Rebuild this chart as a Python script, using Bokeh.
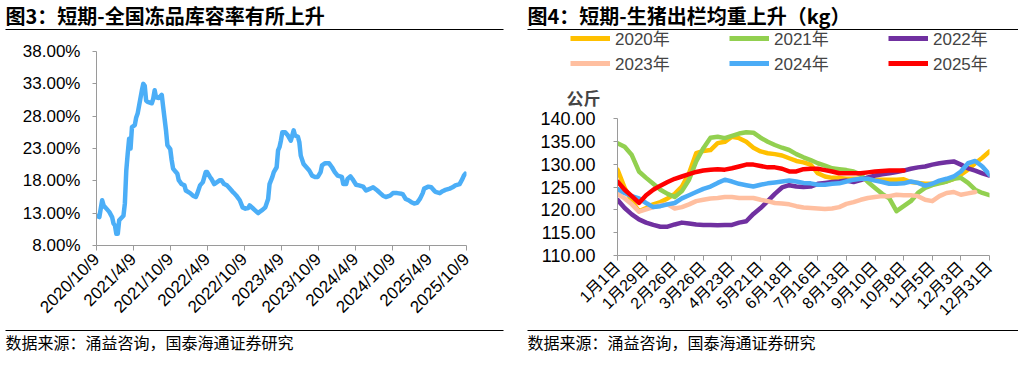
import pandas as pd
from bokeh.plotting import figure
from bokeh.layouts import row, column
from bokeh.models import (Range1d, FixedTicker, PrintfTickFormatter, Label,
                          BoxAnnotation, Legend, LegendItem)
from bokeh.embed import file_html
from bokeh.resources import INLINE

# ---------------- Figure 3 data ----------------
title3 = "图3：短期-全国冻品库容率有所上升"
source_text = "数据来源：涌益咨询，国泰海通证券研究"
start3 = "2020-10-09"
tick_labels3 = ["2020/10/9", "2021/4/9", "2021/10/9", "2022/4/9", "2022/10/9",
                "2023/4/9", "2023/10/9", "2024/4/9", "2024/10/9", "2025/4/9",
                "2025/10/9"]
weeks3 = [
    0, 2, 4, 5, 7, 9, 11, 12, 13, 14,
    15, 16, 19, 20, 21, 22, 23, 24, 25, 27,
    28, 29, 30, 32, 33, 34, 35, 36, 39, 40,
    41, 42, 44, 46, 47, 49, 50, 52, 53, 54,
    56, 57, 58, 60, 62, 63, 66, 68, 70, 71,
    73, 75, 77, 78, 80, 81, 83, 85, 87, 88,
    90, 92, 94, 96, 97, 99, 101, 103, 105, 107,
    108, 110, 112, 114, 115, 117, 119, 121, 122, 124,
    125, 127, 128, 129, 130, 131, 133, 135, 137, 139,
    140, 142, 143, 144, 146, 148, 150, 152, 154, 156,
    158, 159, 161, 164, 166, 168, 170, 173, 174, 176,
    177, 179, 181, 183, 185, 188, 190, 191, 194, 195,
    198, 200, 202, 204, 207, 209, 212, 215, 216, 218,
    220, 222, 224, 226, 228, 230, 231, 234, 236, 238,
    239, 242, 244, 246, 249, 251, 253, 256, 258, 259,
    260]
ratio3 = [
    12.6, 12.4, 15.0, 14.2, 13.7, 13.2, 12.4, 11.4, 11.1, 9.8,
    9.8, 11.9, 12.6, 14.5, 19.6, 22.2, 24.5, 23.0, 26.3, 26.6,
    27.8, 28.4, 29.6, 32.0, 33.0, 32.7, 30.4, 30.2, 30.0, 30.7,
    32.0, 30.9, 30.8, 31.3, 29.4, 25.8, 23.5, 22.9, 21.2, 19.9,
    19.35, 19.1, 18.1, 17.5, 17.3, 16.5, 16.1, 15.7, 15.5, 16.0,
    17.3, 17.8, 19.35, 19.35, 18.6, 18.3, 17.5, 17.8, 18.1, 18.1,
    17.5, 17.3, 16.8, 16.3, 16.1, 15.6, 15.0, 13.9, 13.7, 13.8,
    14.2, 13.8, 13.4, 13.0, 13.2, 13.5, 13.9, 15.2, 17.5, 18.6,
    19.35, 20.1, 22.7, 23.2, 24.2, 25.5, 25.5, 25.0, 24.2, 25.8,
    25.0, 24.8, 24.0, 21.9, 20.6, 20.1, 19.6, 18.8, 18.6, 18.6,
    19.35, 20.4, 20.7, 20.7, 20.1, 19.35, 18.8, 18.6, 17.5, 17.5,
    18.3, 18.7, 18.1, 17.4, 17.3, 17.1, 16.5, 16.6, 16.9, 17.0,
    16.5, 16.1, 15.7, 15.5, 15.7, 16.1, 16.1, 16.0, 15.9, 15.2,
    15.0, 14.7, 14.5, 14.6, 15.2, 16.1, 16.8, 17.1, 17.0, 16.5,
    16.3, 16.1, 16.4, 16.6, 16.8, 17.0, 17.3, 17.5, 18.3, 18.8,
    19.1]
yticks3 = [8, 13, 18, 23, 28, 33, 38]

# ---------------- Figure 4 data ----------------
title4 = "图4：短期-生猪出栏均重上升（kg）"
unit4 = "公斤"
tick_labels4 = ["1月1日", "1月29日", "2月26日", "3月26日", "4月23日", "5月21日",
                "6月18日", "7月16日", "8月13日", "9月10日", "10月8日", "11月5日",
                "12月3日", "12月31日"]
years4 = ["2020年", "2021年", "2022年", "2023年", "2024年", "2025年"]
w2020 = [128.8, 124.8, 121.9, 119.7, 120.4, 121.2, 121.7, 122.5, 123.5, 125.1,
         128.0, 132.4, 132.9, 133.1, 134.6, 134.9, 136.0, 135.7, 134.9, 133.6,
         132.8, 132.4, 132.2, 131.9, 131.3, 130.7, 130.4, 129.9, 128.0, 127.3,
         127.0, 127.0, 126.8, 126.8, 126.8, 126.7, 126.6, 126.6, 126.6, 126.6,
         126.7, 126.1, 125.9, 125.7, 125.7, 125.9, 126.2, 126.8, 127.7, 128.8,
         130.2, 131.4, 132.8]
w2021 = [134.6, 133.8, 132.0, 128.4, 127.0, 125.7, 124.4, 123.5, 122.8, 124.1,
         126.6, 130.6, 133.5, 135.8, 136.0, 135.7, 136.2, 136.7, 137.0, 136.9,
         135.8, 134.9, 134.2, 133.6, 133.1, 132.2, 131.5, 130.9, 130.2, 129.7,
         129.1, 128.9, 128.7, 128.4, 127.7, 126.1, 124.8, 123.5, 122.5, 119.7,
         120.8, 121.9, 123.7, 124.8, 125.4, 125.8, 126.2, 126.8, 127.0, 125.9,
         124.4, 123.7, 123.2]
w2022 = [122.2, 120.4, 119.0, 117.9, 117.2, 116.7, 116.3, 116.3, 116.8, 117.2,
         117.0, 116.8, 116.7, 116.7, 116.6, 116.7, 116.7, 117.2, 117.5, 119.1,
         120.4, 121.9, 123.5, 124.9, 125.4, 125.1, 125.0, 125.1, 125.7, 125.9,
         126.1, 126.2, 126.4, 126.1, 126.5, 127.1, 127.5, 127.8, 128.0, 128.3,
         128.6, 129.0, 129.3, 129.5, 129.9, 130.2, 130.4, 130.6, 129.9, 129.1,
         128.6, 128.0, 127.5]
w2023 = [123.5, 122.5, 121.2, 119.6, 120.1, 120.6, 121.0, 121.2, 120.3, 120.6,
         121.2, 121.9, 122.2, 122.5, 122.6, 122.8, 122.8, 122.6, 122.6, 122.6,
         122.2, 121.9, 121.5, 121.4, 121.2, 120.8, 120.5, 120.4, 120.3, 120.2,
         120.3, 120.6, 121.3, 121.7, 122.2, 122.6, 122.8, 123.0, 123.0, 123.3,
         123.2, 123.2, 123.0, 122.2, 121.9, 123.0, 123.7, 123.9, 123.3, 123.6,
         123.9]
w2024 = [124.6, 123.7, 123.0, 122.5, 121.5, 120.6, 120.8, 121.2, 121.5, 122.5,
         123.2, 123.9, 124.6, 125.1, 125.9, 126.6, 126.2, 125.7, 125.4, 125.1,
         125.5, 125.8, 126.0, 126.2, 126.4, 126.2, 125.9, 125.8, 125.5, 125.5,
         125.7, 125.8, 126.2, 126.6, 126.8, 126.8, 126.4, 126.1, 125.7, 125.7,
         125.8, 126.2, 125.9, 125.3, 125.7, 126.4, 126.8, 127.3, 128.4, 130.2,
         130.7, 129.5, 127.7]
w2025 = [126.2, 124.4, 123.0, 121.5, 123.2, 124.4, 125.3, 126.1, 126.8, 127.3,
         127.8, 128.3, 128.6, 128.8, 128.9, 128.8, 129.1, 129.5, 129.9, 129.9,
         129.6, 129.3, 129.3, 129.0, 128.4, 128.4, 128.9, 129.0, 129.0, 128.7,
         128.4, 128.0, 128.0, 128.0, 128.0, 128.2, 128.4, 128.5, 128.6, 128.6,
         128.6]
series4 = [w2020, w2021, w2022, w2023, w2024, w2025]
colors4 = ["#FFC000", "#92D050", "#7030A0", "#FFBFA0", "#4BACF6", "#FF0000"]
yticks4 = [110, 115, 120, 125, 130, 135, 140]

# ---------------- layout / style ----------------
TOTAL_W = 1018
LEFT_W, RIGHT_W = 520, 498
HEAD_H, MAIN_H, FOOT_H = 30, 297, 26
LEG_H = 80
NUM_FONT = "Liberation Sans"
CJK_FONT = "Noto Sans CJK SC"
MIX_FONT = NUM_FONT + ", " + CJK_FONT
AXIS_COLOR = "#9A9A9A"


def blank_fig(w, h, xr=(0, 1), yr=(0, 1)):
    f = figure(width=w, height=h, output_backend="svg", toolbar_location=None,
               x_range=Range1d(*xr), y_range=Range1d(*yr),
               x_axis_location=None, y_axis_location=None, min_border=0,
               outline_line_color=None, background_fill_color="white",
               border_fill_color="white", frame_align=False)
    f.grid.visible = False
    return f


def rule(f, x0, x1, y):
    f.add_layout(BoxAnnotation(left=x0, right=x1, top=y + 0.6, bottom=y - 0.6,
                               left_units="screen", right_units="screen",
                               top_units="screen", bottom_units="screen",
                               fill_color="#000000", fill_alpha=1, line_alpha=0))


def style_axes(p, xfs, yfs):
    for ax in (p.xaxis[0], p.yaxis[0]):
        ax.axis_line_color = AXIS_COLOR
        ax.major_tick_line_color = AXIS_COLOR
        ax.minor_tick_line_color = None
        ax.major_tick_in = 0
        ax.major_label_text_color = "#000000"
        ax.major_label_text_font = NUM_FONT
    p.xaxis[0].major_tick_out = 5
    p.yaxis[0].major_tick_out = 4
    p.xaxis[0].major_label_text_font_size = xfs
    p.yaxis[0].major_label_text_font_size = yfs
    p.xaxis[0].major_label_orientation = 0.785398
    p.xgrid.grid_line_color = None
    p.ygrid.grid_line_color = None
    p.outline_line_color = None


# ---------------- header (titles + rules) ----------------
header = blank_fig(TOTAL_W, HEAD_H)
for tx, txt in ((5, title3), (527, title4)):
    header.add_layout(Label(x=tx, y=HEAD_H - 15, x_units="screen", y_units="screen",
                            text=txt, text_font=CJK_FONT, text_font_style="bold",
                            text_font_size="20px", text_baseline="middle",
                            text_color="#000000"))
rule(header, 5, 503, 1)
rule(header, 527, TOTAL_W, 1)

# ---------------- Figure 3 ----------------
d0 = pd.Timestamp(start3)
tick_pos3 = [(pd.Timestamp(t.replace("/", "-")) - d0).days / 7.0 for t in tick_labels3]
L_FL, L_FR, L_FT, L_FB = 96, 466, 21, 215
p3 = figure(width=LEFT_W, height=MAIN_H, output_backend="svg", toolbar_location=None,
            x_range=Range1d(0, tick_pos3[-1]), y_range=Range1d(8, 38),
            min_border_left=L_FL, min_border_right=LEFT_W - L_FR,
            min_border_top=L_FT, min_border_bottom=MAIN_H - L_FB,
            background_fill_color="white", border_fill_color="white",
            frame_align=False)
p3.line(weeks3, ratio3, line_color="#4BAEF7", line_width=4.5,
        line_join="round", line_cap="round")
p3.xaxis[0].ticker = FixedTicker(ticks=tick_pos3)
p3.xaxis[0].major_label_overrides = {tp: lab for tp, lab in zip(tick_pos3, tick_labels3)}
p3.yaxis[0].ticker = FixedTicker(ticks=yticks3)
p3.yaxis[0].formatter = PrintfTickFormatter(format="%.2f%%")
style_axes(p3, "17px", "17px")
p3.yaxis[0].major_label_standoff = 12
p3.xaxis[0].major_label_standoff = 6

# ---------------- Figure 4 legend strip ----------------
# proxy renderers (same series, far outside this strip's ranges) feed the legend
legfig = blank_fig(RIGHT_W, LEG_H)
items = []
for name, vals, col in zip(years4, series4, colors4):
    r = legfig.line(list(range(len(vals))), vals, line_color=col, line_width=5)
    items.append(LegendItem(label=name, renderers=[r]))
legend = Legend(items=items, ncols=3, orientation="horizontal", location=(50, 35),
                glyph_width=40, glyph_height=20, label_width=114, label_height=20,
                label_standoff=5, spacing=0, padding=0, margin=0,
                border_line_alpha=0, background_fill_alpha=0,
                label_text_font=MIX_FONT, label_text_font_size="17px")
legfig.add_layout(legend)
legfig.add_layout(Label(x=63, y=13, x_units="screen", y_units="screen", text=unit4,
                        text_font=CJK_FONT, text_font_style="bold", text_font_size="17px",
                        text_align="center", text_baseline="middle"))

# ---------------- Figure 4 ----------------
P4_H = MAIN_H - LEG_H
R_FL, R_FR, R_FT, R_FB = 97, 469, 8, 146
p4 = figure(width=RIGHT_W, height=P4_H, output_backend="svg", toolbar_location=None,
            x_range=Range1d(0, 52), y_range=Range1d(110, 140),
            min_border_left=R_FL, min_border_right=RIGHT_W - R_FR,
            min_border_top=R_FT, min_border_bottom=P4_H - R_FB,
            background_fill_color="white", border_fill_color="white",
            frame_align=False)
for vals, col in zip(series4, colors4):
    p4.line(list(range(len(vals))), vals, line_color=col, line_width=4.5,
            line_join="round", line_cap="round")
tick_pos4 = [i * 4 for i in range(len(tick_labels4))]
p4.xaxis[0].ticker = FixedTicker(ticks=tick_pos4)
p4.xaxis[0].major_label_overrides = {tp: lab for tp, lab in zip(tick_pos4, tick_labels4)}
p4.yaxis[0].ticker = FixedTicker(ticks=yticks4)
p4.yaxis[0].formatter = PrintfTickFormatter(format="%.2f")
style_axes(p4, "16px", "18px")
p4.xaxis[0].major_label_text_font = MIX_FONT
p4.xaxis[0].major_label_standoff = 4
p4.yaxis[0].major_label_standoff = 18

# ---------------- footer (rules + sources) ----------------
footer = blank_fig(TOTAL_W, FOOT_H)
rule(footer, 5, 503, FOOT_H - 3)
rule(footer, 527, TOTAL_W, FOOT_H - 3)
for tx in (5, 527):
    footer.add_layout(Label(x=tx, y=12, x_units="screen", y_units="screen",
                            text=source_text, text_font=CJK_FONT, text_font_size="16px",
                            text_baseline="middle", text_color="#000000"))

layout = column(header,
                row(p3, column(legfig, p4, spacing=0), spacing=0),
                footer, spacing=0)
open("out.html", "w").write(file_html(layout, INLINE))
